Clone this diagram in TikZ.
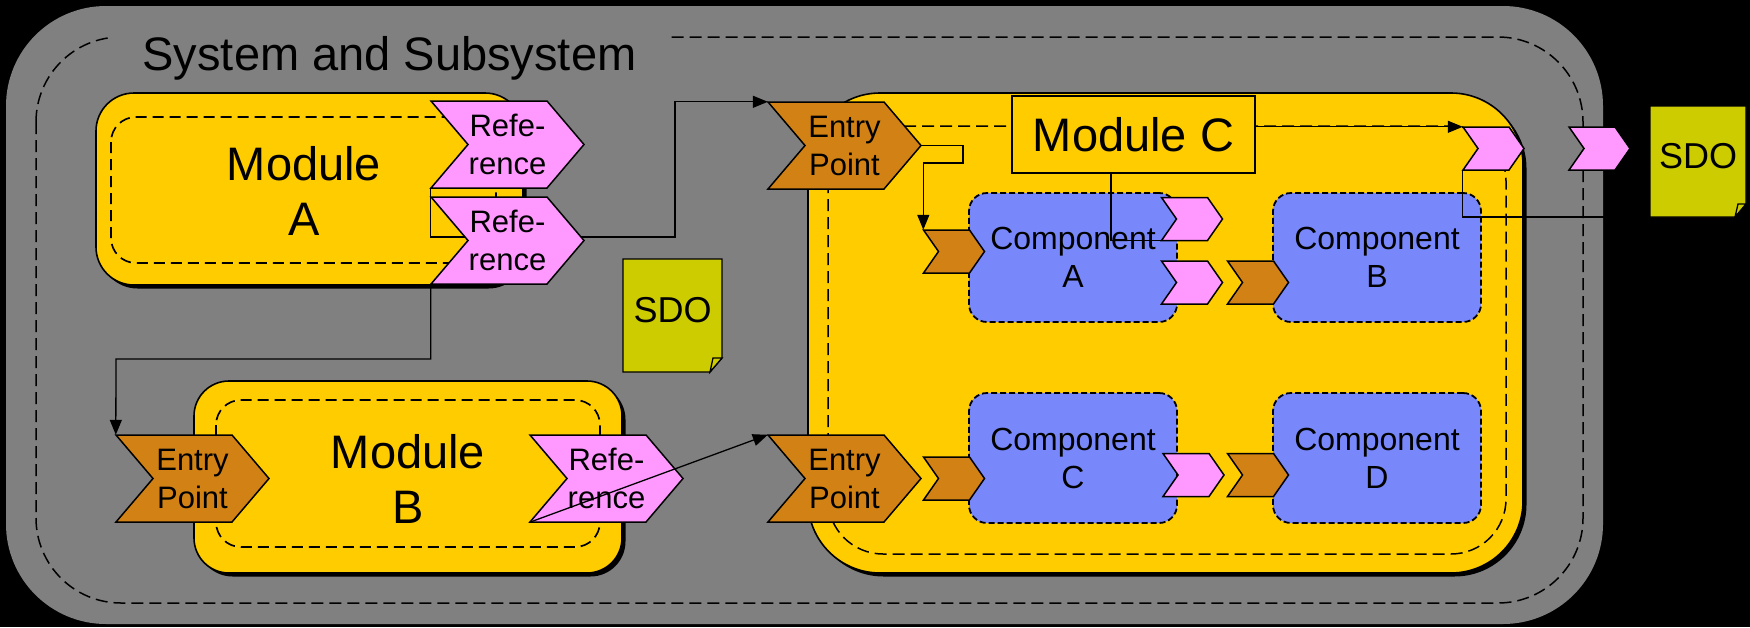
\documentclass[tikz,border=0pt]{standalone}
\usepackage{fontspec}
\setmainfont{Liberation Sans}
\usetikzlibrary{arrows.meta,shadows}

\definecolor{sysgray}{RGB}{128,128,128}
\definecolor{modyellow}{RGB}{255,204,0}
\definecolor{refpink}{RGB}{255,153,255}
\definecolor{entrybrown}{RGB}{210,130,20}
\definecolor{compblue}{RGB}{120,136,250}
\definecolor{sdoolive}{RGB}{204,204,0}

\pgfdeclarelayer{back}
\pgfdeclarelayer{wires}
\pgfsetlayers{back,wires,main}

% chevron port: name, centre x, centre y, width, height, pointer depth, style, text
\newcommand\chevron[8]{%
  \filldraw[chevline,#7] (#2-#4/2,#3-#5/2) -- ++(#4-#6,0) -- ++(#6,#5/2)
    -- ++(-#6,#5/2) -- ++(-#4+#6,0) -- ++(#6,-#5/2) -- cycle;
  \node[chevtext,minimum width=#4,minimum height=#5] (#1) at (#2,#3) {#8};
}

% data object with folded corner: name, x1, y1, x2, y2, fold width, fold height
\newcommand\sdonote[7]{%
  \filldraw[sdoline] (#2,#3) -- (#4,#3) -- (#4,#5-#7) -- (#4-#6,#5) -- (#2,#5) -- cycle;
  \filldraw[sdoline] (#4-#6,#5) -- (#4-#6+3,#5-#7) -- (#4,#5-#7) -- cycle;
  \coordinate (#1-sw) at (#2,#5);
  \node[sdotext] (#1) at ({(#2+#4)/2},{(#3+#5)/2-5.5}) {SDO};
}

\begin{document}
\begin{tikzpicture}[x=1pt,y=-1pt,
  chevline/.style={draw=black,line width=1.5pt,line join=miter},
  pinkchev/.style={fill=refpink},
  brownchev/.style={fill=entrybrown},
  chevtext/.style={inner sep=0pt,align=center,font=\fontsize{31}{38}\selectfont},
  modbox/.style={rectangle,draw=black,line width=1.6pt,fill=modyellow,rounded corners=#1,inner sep=0pt,
    drop shadow={shadow xshift=3.5pt,shadow yshift=-3.5pt,opacity=1,fill=black}},
  moddash/.style={draw=black,line width=1.7pt,dash pattern=on 11pt off 6pt},
  sysdash/.style={draw=black,line width=1.5pt,dash pattern=on 12pt off 6pt},
  compbox/.style={rectangle,rounded corners=18,fill=compblue,draw=black,line width=1.8pt,
    dash pattern=on 6pt off 3pt,inner sep=0pt,minimum width=208,minimum height=129,
    align=center,font=\fontsize{32}{38}\selectfont},
  modtext/.style={align=center,inner sep=0pt,font=\fontsize{47}{55}\selectfont},
  labelbox/.style={rectangle,draw=black,line width=1.5pt,fill=modyellow,minimum width=243,
    minimum height=77,inner sep=0pt,font=\fontsize{47}{55}\selectfont},
  conn/.style={draw=black,line width=1.3pt},
  arr/.style={conn,-{Triangle[length=15pt,width=12pt]}},
  sdoline/.style={draw=black,line width=1.3pt,fill=sdoolive,line join=miter},
  sdotext/.style={inner sep=0pt,font=\fontsize{36}{40}\selectfont},
  systitle/.style={fill=sysgray,inner sep=0pt,minimum width=555,minimum height=50,
    font=\fontsize{47}{55}\selectfont}
]
\useasboundingbox (0,0) rectangle (1750,627);

\begin{pgfonlayer}{back}
  \fill[black] (0,0) rectangle (1750,627);
  % system and subsystem frame
  \fill[sysgray,rounded corners=100] (6,6) rectangle (1603,624);
  \draw[sysdash,rounded corners=85] (36,37) rectangle (1583,603);
  \node[systitle] (title) at (389.5,58) {System and Subsystem};
  % module A body
  \node[modbox=38,minimum width=427,minimum height=192] (modA) at (309.5,189) {};
  \draw[moddash,rounded corners=25] (111,117) rectangle (496,263);
\end{pgfonlayer}

% module A
\chevron{refA1}{507.5}{144.5}{153}{87}{37}{pinkchev}{Refe-\\rence}
\chevron{refA2}{507.5}{240.5}{153}{87}{37}{pinkchev}{Refe-\\rence}
\node[modtext] (modA-t) at (304,190.5) {Module\\A};

% loose data object
\sdonote{sdoM}{623}{259}{722}{372}{12}{14}

% module B
\node[modbox=35,minimum width=428,minimum height=192] (modB) at (408,477) {};
\draw[moddash,rounded corners=25] (216,400) rectangle (600,547);
\chevron{epB}{192.5}{478.5}{153}{87}{37}{brownchev}{Entry\\Point}
\chevron{refB}{606.5}{478.5}{153}{87}{37}{pinkchev}{Refe-\\rence}
\node[modtext] (modB-t) at (408,478.5) {Module\\B};

% module C
\node[modbox=72,minimum width=715,minimum height=480] (modC) at (1165.5,333) {};
\draw[moddash,line width=1.5pt,dash pattern=on 12pt off 6pt,rounded corners=55] (828,126) rectangle (1506,554);

\node[compbox] (compA) at (1073,257.5) {Component\\A};
\node[compbox] (compB) at (1377,257.5) {Component\\B};
\node[compbox,minimum height=130] (compC) at (1073,458) {Component\\C};
\node[compbox,minimum height=130] (compD) at (1377,458) {Component\\D};

\chevron{pA}{954}{251.5}{61}{43}{15}{brownchev}{}
\chevron{pA1}{1192}{219}{61}{43}{15}{pinkchev}{}
\chevron{pA2}{1192}{282.5}{61}{43}{15}{pinkchev}{}
\chevron{pB}{1258}{282.5}{61}{43}{15}{brownchev}{}
\chevron{pC}{954}{478.5}{61}{43}{15}{brownchev}{}
\chevron{pC1}{1193.5}{475}{61}{43}{15}{pinkchev}{}
\chevron{pD}{1258}{475}{61}{43}{15}{brownchev}{}
\chevron{pMC}{1493.5}{148.5}{61}{43}{15}{pinkchev}{}

\node[labelbox] (modClabel) at (1133.5,134.5) {Module C};

\chevron{epC1}{844.5}{145.5}{153}{87}{37}{brownchev}{Entry\\Point}
\chevron{epC2}{844.5}{478.5}{153}{87}{37}{brownchev}{Entry\\Point}

% connections inside and between modules
\coordinate (bendA) at (675,237);
\coordinate (bendB) at (116,359);
\coordinate (bendC) at (963,163);
\coordinate (tapC) at ([xshift=-22.5pt]modClabel.south);

\draw[arr] (refA2.south west) |- (bendB) -- (epB.north west);
\draw[arr] (refB.south west) -- (epC2.north west);
\draw[arr] (epC1.east) -| (bendC) -| (pA.north west);
\draw[arr] (modClabel.east |- pMC.north west) -- (pMC.north west);
\draw[conn] (tapC) |- (pA1.south west);

% system level port and data object
\chevron{pSys}{1599.5}{148.5}{61}{43}{15}{pinkchev}{}
\sdonote{sdoR}{1650}{106}{1746}{217}{11}{13}
\draw[conn] (pMC.south west) |- (sdoR-sw);

\begin{pgfonlayer}{wires}
  \draw[arr] (refA1.south west) |- (bendA) |- (epC1.north west);
\end{pgfonlayer}
\end{tikzpicture}
\end{document}
